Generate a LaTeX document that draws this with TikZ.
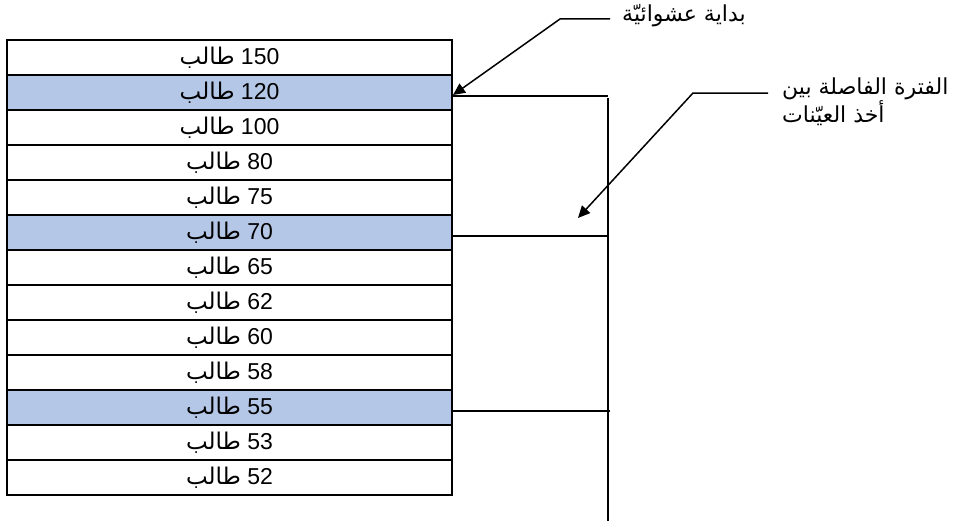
\documentclass[tikz,border=0pt]{standalone}
\usepackage{fontspec}
\setmainfont{Liberation Sans}
\newfontfamily\arabicfont[Script=Arabic]{DejaVu Sans}
\TeXXeTstate=1
\usetikzlibrary{arrows.meta}
\definecolor{rowblue}{RGB}{180,199,231}
\newcommand\studentrow[1]{{\arabicfont\beginR طالب\endR}\ #1}
\begin{document}
\begin{tikzpicture}[x=1pt,y=-1pt,
  rowbox/.style={draw, line width=2pt, minimum width=445pt, minimum height=35pt, inner sep=0pt,
                 font=\fontsize{23}{27}\selectfont},
  hlrow/.style={rowbox, fill=rowblue},
  conn/.style={line width=1.5pt},
  arr/.style={conn, -{Triangle[length=12pt,width=11pt]}},
  lab/.style={inner sep=0pt, font=\fontsize{22}{28}\selectfont\arabicfont}]
\useasboundingbox (0,0) rectangle (960,527);
\node[rowbox] (r1)  at (229.5, 57.5) {\studentrow{150}};
\node[hlrow]  (r2)  at (229.5, 92.5) {\studentrow{120}};
\node[rowbox] (r3)  at (229.5,127.5) {\studentrow{100}};
\node[rowbox] (r4)  at (229.5,162.5) {\studentrow{80}};
\node[rowbox] (r5)  at (229.5,197.5) {\studentrow{75}};
\node[hlrow]  (r6)  at (229.5,232.5) {\studentrow{70}};
\node[rowbox] (r7)  at (229.5,267.5) {\studentrow{65}};
\node[rowbox] (r8)  at (229.5,302.5) {\studentrow{62}};
\node[rowbox] (r9)  at (229.5,337.5) {\studentrow{60}};
\node[rowbox] (r10) at (229.5,372.5) {\studentrow{58}};
\node[hlrow]  (r11) at (229.5,407.5) {\studentrow{55}};
\node[rowbox] (r12) at (229.5,442.5) {\studentrow{53}};
\node[rowbox] (r13) at (229.5,477.5) {\studentrow{52}};
% interval bracket
\coordinate (h1) at (608,96);
\coordinate (h2) at (608,236);
\coordinate (h3) at (610,411);
\coordinate (vtop) at (608,98);
\coordinate (vbot) at (608,521);
\draw[conn] ([yshift=-3.5pt]r2.east) -- (h1);
\draw[conn] ([yshift=-3.5pt]r6.east) -- (h2);
\draw[conn] ([yshift=-3.5pt]r11.east) -- (h3);
\draw[conn] (vtop) -- (vbot);
% labels
\node[lab, anchor=west] (lab1) at (622,16) {\beginR بداية عشوائيّة\endR};
\node[lab, anchor=north west, align=left] (lab2) at (782,78)
  {\beginR الفترة الفاصلة بين\endR\\ \beginR أخذ العيّنات\endR};
\coordinate (a1s) at (610,19);
\coordinate (a1b) at (560,19);
\coordinate (a2s) at (768,93);
\coordinate (a2b) at (693,93);
\coordinate (a2t) at (578,218);
\draw[arr] (a1s) -- (a1b) -- ([yshift=-2.5pt]r2.east);
\draw[arr] (a2s) -- (a2b) -- (a2t);
\end{tikzpicture}
\end{document}
